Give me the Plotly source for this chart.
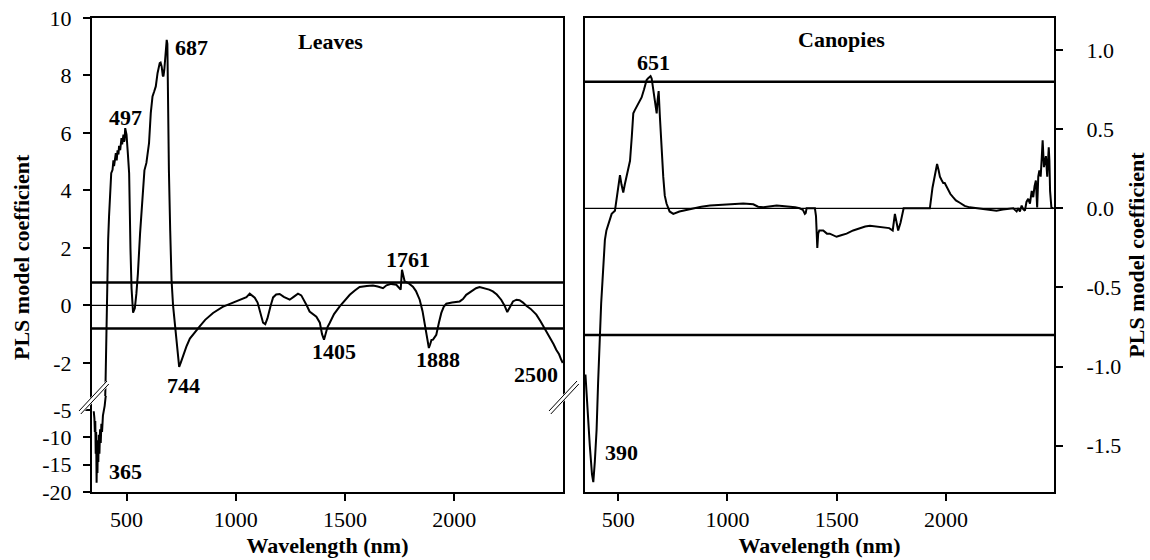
import plotly.graph_objects as go

# ---------------- data ----------------
leaves_wl = [350, 353, 355, 357, 359, 361, 363, 365, 367, 369, 371, 373, 376, 379, 382, 385, 388, 392, 396, 400,
             404, 408, 411, 416, 420, 425, 430, 436, 440, 443, 447, 451, 455, 459, 463, 466, 471, 474, 477, 480,
             482, 486, 489, 491, 494, 500, 506, 512, 518, 523, 530, 538, 545, 552, 562, 572, 582, 591, 598, 603,
             611, 619, 627, 634, 642, 647, 652, 656, 661, 666, 669, 673, 677, 681, 684, 687, 690, 694, 700, 706,
             713, 720, 728, 735, 741, 748, 760, 774, 790, 810, 835, 860, 896, 940, 988, 1020, 1049, 1064, 1075, 1087,
             1100, 1110, 1125, 1135, 1145, 1160, 1171, 1185, 1201, 1220, 1247, 1265, 1285, 1300, 1308, 1325, 1338, 1355, 1369, 1385,
             1395, 1404, 1412, 1420, 1430, 1450, 1476, 1500, 1522, 1545, 1567, 1600, 1628, 1650, 1674, 1690, 1712, 1735, 1750, 1755,
             1761, 1767, 1773, 1790, 1811, 1825, 1842, 1855, 1865, 1875, 1884, 1890, 1896, 1903, 1910, 1918, 1930, 1941, 1952, 1964,
             1990, 2025, 2040, 2055, 2080, 2100, 2116, 2140, 2160, 2177, 2195, 2215, 2230, 2243, 2255, 2269, 2285, 2299, 2315, 2330,
             2350, 2376, 2395, 2413, 2430, 2444, 2455, 2467, 2480, 2490, 2497]
leaves_coef = [-5.2, -6.5, -9, -7, -13, -9, -18.3, -12, -16.5, -10.5, -14.5, -9.5, -13, -8.5, -11, -7.5, -9, -6, -5.2, -4.2,
               -2.7, -1.0, 1.1, 2.3, 3.1, 3.9, 4.6, 4.72, 5.05, 4.85, 5.2, 5.3, 5.05, 5.4, 5.25, 5.55, 5.4, 5.75, 5.82, 5.6,
               5.75, 5.94, 5.7, 5.75, 6.17, 5.94, 5.3, 4.6, 2.0, 0.6, -0.25, -0.1, 0.4, 1.1, 2.5, 3.8, 4.7, 4.96, 5.3, 5.65,
               6.69, 7.27, 7.45, 7.62, 8.08, 8.3, 8.43, 8.45, 8.31, 8.0, 7.97, 8.2, 8.55, 9.0, 9.24, 9.1, 7.0, 4.7, 2.6, 0.9,
               0.0, -0.6, -1.3, -1.8, -2.14, -2.0, -1.7, -1.43, -1.15, -0.95, -0.73, -0.5, -0.26, -0.05, 0.1, 0.2, 0.29, 0.41, 0.35, 0.27,
               0.1, -0.2, -0.6, -0.65, -0.45, 0.0, 0.28, 0.38, 0.4, 0.3, 0.2, 0.3, 0.41, 0.35, 0.25, 0.0, -0.21, -0.3, -0.39, -0.6,
               -1.0, -1.19, -1.0, -0.75, -0.61, -0.3, -0.03, 0.2, 0.37, 0.52, 0.64, 0.68, 0.69, 0.66, 0.6, 0.7, 0.75, 0.72, 0.6, 0.55,
               1.24, 1.0, 0.84, 0.78, 0.65, 0.5, 0.2, -0.2, -0.61, -1.1, -1.48, -1.35, -1.2, -1.19, -1.1, -1.02, -0.6, -0.26, -0.05, 0.06,
               0.1, 0.14, 0.22, 0.37, 0.5, 0.6, 0.64, 0.6, 0.55, 0.49, 0.38, 0.2, 0.0, -0.23, -0.05, 0.14, 0.2, 0.18, 0.1, -0.01,
               -0.12, -0.32, -0.55, -0.79, -0.98, -1.19, -1.35, -1.54, -1.7, -1.89, -2.0]

canopy_wl = [350, 360, 370, 380, 386, 393, 401, 408, 416, 422, 428, 431, 439, 446, 454, 462, 470, 485, 496, 502,
             508, 515, 523, 530, 538, 546, 554, 562, 569, 576, 584, 595, 607, 618, 630, 636, 642, 648, 653, 658,
             663, 670, 676, 680, 685, 691, 698, 706, 713, 721, 735, 752, 780, 810, 843, 880, 920, 970, 1020, 1072,
             1118, 1140, 1164, 1180, 1200, 1225, 1250, 1286, 1310, 1330, 1345, 1354, 1358, 1362, 1385, 1400, 1405, 1411, 1415, 1420,
             1438, 1455, 1468, 1499, 1520, 1545, 1575, 1606, 1630, 1652, 1680, 1713, 1740, 1756, 1766, 1781, 1792, 1806, 1850, 1900,
             1926, 1938, 1950, 1959, 1966, 1972, 1979, 1987, 1994, 2002, 2010, 2020, 2032, 2045, 2063, 2085, 2108, 2140, 2169, 2200,
             2231, 2260, 2292, 2308, 2315, 2323, 2330, 2338, 2346, 2353, 2361, 2368, 2376, 2384, 2392, 2399, 2405, 2411, 2417, 2422,
             2427, 2433, 2438, 2442, 2448, 2453, 2457, 2463, 2470, 2473, 2476, 2482, 2491]
canopy_coef = [-1.05, -1.3, -1.5, -1.68, -1.73, -1.6, -1.40, -1.1, -0.79, -0.6, -0.46, -0.37, -0.2, -0.14, -0.1, -0.06, -0.035, -0.015, 0.09, 0.15,
               0.21, 0.15, 0.1, 0.15, 0.2, 0.25, 0.3, 0.45, 0.6, 0.62, 0.64, 0.67, 0.70, 0.75, 0.81, 0.82, 0.83, 0.835, 0.82, 0.77,
               0.72, 0.65, 0.60, 0.68, 0.74, 0.57, 0.38, 0.2, 0.08, 0.03, -0.02, -0.035, -0.02, -0.01, 0.0, 0.01, 0.017, 0.022, 0.027, 0.03,
               0.025, 0.01, 0.006, 0.01, 0.012, 0.017, 0.014, 0.01, 0.006, 0.0, -0.01, -0.035, -0.03, 0.0, 0.0, 0.0, -0.05, -0.25, -0.16, -0.14,
               -0.14, -0.16, -0.16, -0.18, -0.17, -0.16, -0.14, -0.125, -0.115, -0.11, -0.115, -0.12, -0.125, -0.14, -0.035, -0.14, -0.09, 0.0, 0.0, 0.0,
               0.0, 0.13, 0.22, 0.28, 0.24, 0.2, 0.18, 0.16, 0.16, 0.14, 0.12, 0.09, 0.07, 0.05, 0.035, 0.015, 0.006, 0.0, -0.005, -0.01,
               -0.015, -0.008, 0.0, 0.0, -0.01, -0.02, 0.0, -0.02, 0.017, -0.005, -0.015, 0.04, 0.06, 0.03, 0.11, 0.07, 0.14, 0.175, 0.006, 0.2,
               0.24, 0.2, 0.32, 0.43, 0.26, 0.3, 0.33, 0.2, 0.385, 0.3, 0.11, 0.006, 0.0]

threshold = 0.8

x_ticks = [500, 1000, 1500, 2000]
left_top_ticks = [10, 8, 6, 4, 2, 0, -2]
left_top_labels = ["10", "8", "6", "4", "2", "0", "-2"]
left_bot_ticks = [-5, -10, -15, -20]
left_bot_labels = ["-5", "-10", "-15", "-20"]
right_ticks = [1.0, 0.5, 0.0, -0.5, -1.0, -1.5]
right_labels = ["1.0", "0.5", "0.0", "-0.5", "-1.0", "-1.5"]

leaves_peaks = [687, 497, 744, 1405, 1761, 1888]
leaves_end = 2500
leaves_low_peak = 365
canopy_peaks = [651, 390]

# ---------------- figure ----------------
W, H = 1150, 560
FONT = "Liberation Serif"


def px_x(p):
    return p / W


def px_y(p):
    return 1 - p / H


LX = [px_x(92), px_x(563)]
RX = [px_x(585), px_x(1054)]
Y_BOTTOM = px_y(492)
Y_TOP = px_y(18)
Y_BREAK = px_y(396)

fig = go.Figure()
line_style = dict(color="black", width=2)

fig.add_trace(go.Scatter(x=leaves_wl, y=leaves_coef, xaxis="x2", yaxis="y2", mode="lines",
                         line=line_style, showlegend=False))
fig.add_trace(go.Scatter(x=leaves_wl, y=leaves_coef, xaxis="x", yaxis="y", mode="lines",
                         line=line_style, showlegend=False))
fig.add_trace(go.Scatter(x=canopy_wl, y=canopy_coef, xaxis="x3", yaxis="y3", mode="lines",
                         line=line_style, showlegend=False))

tickfont = dict(family=FONT, size=22, color="black")
titlefont = dict(family=FONT, size=22, color="black", weight="bold")
ax_common = dict(showline=True, linecolor="black", linewidth=2, showgrid=False, zeroline=False,
                 ticks="outside", ticklen=7, tickwidth=2, tickcolor="black", tickfont=tickfont)

left_range = [342, 2498]
right_range = [348, 2494]

fig.update_layout(
    width=W, height=H,
    margin=dict(l=0, r=0, t=0, b=0),
    paper_bgcolor="white", plot_bgcolor="white",
    showlegend=False,
    xaxis=dict(ax_common, domain=LX, anchor="y", range=left_range, tickvals=x_ticks,
               title=dict(text="Wavelength (nm)", font=titlefont, standoff=6), automargin=False),
    yaxis=dict(ax_common, domain=[Y_BOTTOM, Y_BREAK], anchor="x", range=[-20, -2.4], mirror=True,
               tickvals=left_bot_ticks, ticktext=left_bot_labels, automargin=False, ticklabelstandoff=7),
    xaxis2=dict(showline=True, linecolor="black", linewidth=2, showgrid=False, zeroline=False,
                domain=LX, anchor="y2", side="top", matches="x", range=left_range,
                ticks="", showticklabels=False, automargin=False),
    yaxis2=dict(ax_common, domain=[Y_BREAK, Y_TOP], anchor="x2", range=[-3.15, 10], mirror=True,
                tickvals=left_top_ticks, ticktext=left_top_labels, automargin=False, ticklabelstandoff=7),
    xaxis3=dict(ax_common, domain=RX, anchor="y3", range=right_range, tickvals=x_ticks, mirror=True,
                title=dict(text="Wavelength (nm)", font=titlefont, standoff=6), automargin=False),
    yaxis3=dict(ax_common, domain=[Y_BOTTOM, Y_TOP], anchor="x3", side="right", range=[-1.792, 1.202],
                mirror=True, tickvals=right_ticks, ticktext=right_labels, ticklabelstandoff=19,
                title=dict(text="PLS model coefficient", font=titlefont, standoff=8), automargin=False),
)

# threshold and zero lines
shapes = []
for v in (threshold, -threshold):
    shapes.append(dict(type="line", xref="x2 domain", yref="y2", x0=0, x1=1, y0=v, y1=v,
                       line=dict(color="black", width=2.5)))
    shapes.append(dict(type="line", xref="x3 domain", yref="y3", x0=0, x1=1, y0=v, y1=v,
                       line=dict(color="black", width=2.5)))
shapes.append(dict(type="line", xref="x2 domain", yref="y2", x0=0, x1=1, y0=0, y1=0,
                   line=dict(color="black", width=1.3)))
shapes.append(dict(type="line", xref="x3 domain", yref="y3", x0=0, x1=1, y0=0, y1=0,
                   line=dict(color="black", width=1.3)))

# axis break marks (//) on both sides of the left panel
for (ax0, ay0, ax1, ay1) in [(79, 411, 107, 381), (549, 411, 577, 381)]:
    shapes.append(dict(type="line", xref="paper", yref="paper",
                       x0=px_x(ax0 + 1), y0=px_y(ay0 + 1.5), x1=px_x(ax1 + 1), y1=px_y(ay1 + 1.5),
                       line=dict(color="white", width=5), layer="above"))
    for off in (0, 3):
        shapes.append(dict(type="line", xref="paper", yref="paper",
                           x0=px_x(ax0 + off * 0.6), y0=px_y(ay0 + off), x1=px_x(ax1 + off * 0.6), y1=px_y(ay1 + off),
                           line=dict(color="black", width=1), layer="above"))
fig.update_layout(shapes=shapes)

# annotations
lab_font = dict(family=FONT, size=22, color="black", weight="bold")


def coef_at(wls, vals, w):
    i = min(range(len(wls)), key=lambda k: abs(wls[k] - w))
    return vals[i]


offsets = {687: (6, -4, "left"), 497: (0, 11, "center"), 744: (4, -19, "center"),
           1405: (10, -12, "center"), 1761: (6, 10, "center"), 1888: (8, -15, "center")}
ann = []
for p in leaves_peaks:
    dx, dy, xa = offsets[p]
    ann.append(dict(x=p, y=coef_at(leaves_wl, leaves_coef, p), xref="x2", yref="y2", text=str(p),
                    showarrow=False, xanchor=xa, yanchor="middle", xshift=dx, yshift=dy, font=lab_font))
ann.append(dict(x=leaves_wl[-1], y=leaves_coef[-1], xref="x2", yref="y2", text=str(leaves_end),
                showarrow=False, xanchor="right", yanchor="middle", xshift=-3, yshift=-12, font=lab_font))
ann.append(dict(x=leaves_low_peak, y=coef_at(leaves_wl, leaves_coef, 363), xref="x", yref="y",
                text=str(leaves_low_peak), showarrow=False, xanchor="left", yanchor="middle",
                xshift=10, yshift=11, font=lab_font))
can_off = {651: (2, 16, "center"), 390: (9, 9, "left")}
for p in canopy_peaks:
    dx, dy, xa = can_off[p]
    ann.append(dict(x=p, y=coef_at(canopy_wl, canopy_coef, p), xref="x3", yref="y3", text=str(p),
                    showarrow=False, xanchor=xa, yanchor="middle", xshift=dx, yshift=dy, font=lab_font))
ann.append(dict(x=0.507, y=0.937, xref="x2 domain", yref="y2 domain", text="Leaves", showarrow=False,
                xanchor="center", yanchor="middle", font=lab_font))
ann.append(dict(x=0.546, y=0.954, xref="x3 domain", yref="y3 domain", text="Canopies", showarrow=False,
                xanchor="center", yanchor="middle", font=lab_font))
# left y-axis title spanning the broken axis
ann.append(dict(x=px_x(22), y=px_y(257), xref="paper", yref="paper", text="PLS model coefficient",
                textangle=-90, showarrow=False, xanchor="center", yanchor="middle", font=titlefont))
fig.update_layout(annotations=ann)

fig.write_html("out.html")
